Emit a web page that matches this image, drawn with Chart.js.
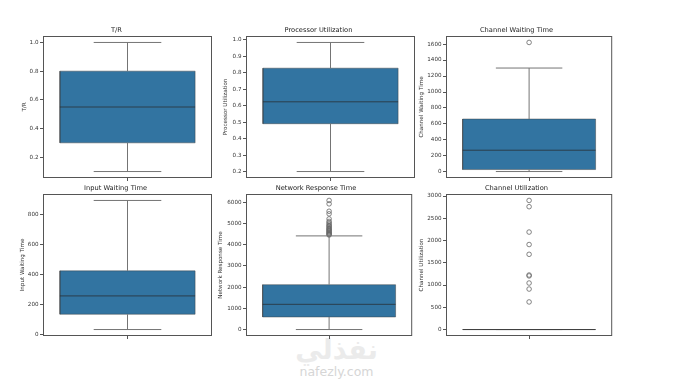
<!DOCTYPE html>
<html><head><meta charset="utf-8">
<script src="https://cdn.jsdelivr.net/npm/chart.js@4"></script>
<style>
html,body{margin:0;padding:0;background:#fff;width:673px;height:379px;overflow:hidden;position:relative}
canvas{position:absolute}
.wm{position:absolute;left:0;width:673px;text-align:center;white-space:nowrap}
</style></head><body>
<div class="wm" style="top:334px;left:0px;font:bold 27px 'DejaVu Sans';color:#ebebeb">نفذلي</div>
<div class="wm" style="top:364px;left:0px;font:12.5px 'DejaVu Sans';color:#d6d6d6">nafezly.com</div>
<script>
// ---- data ----
const titles = ['T/R','Processor Utilization','Channel Waiting Time','Input Waiting Time','Network Response Time','Channel Utilization'];
const whiskerLow  = [0.10, 0.202, 5,    33,  0,    0];
const quartile1   = [0.30, 0.492, 30,   135, 593,  0];
const medians     = [0.55, 0.625, 272,  257, 1190, 0];
const quartile3   = [0.80, 0.829, 662,  424, 2115, 0];
const whiskerHigh = [1.00, 0.985, 1300, 893, 4418, 0];
const outliersTR = [];
const outliersProc = [];
const outliersChanWait = [1620];
const outliersInput = [];
const outliersNet = [6090, 5930, 5580, 5460, 5220, 5100, 5030, 4960, 4900, 4860, 4800, 4760, 4720, 4680, 4640, 4600, 4560, 4520, 4490, 4460];
const outliersChanUtil = [2900, 2760, 2190, 1910, 1690, 1225, 1205, 1045, 910, 620];
const outliers = [outliersTR, outliersProc, outliersChanWait, outliersInput, outliersNet, outliersChanUtil];
const ticksTR = [0.2, 0.4, 0.6, 0.8, 1.0];
const ticksProc = [0.2, 0.3, 0.4, 0.5, 0.6, 0.7, 0.8, 0.9, 1.0];
const ticksChanWait = [0, 200, 400, 600, 800, 1000, 1200, 1400, 1600];
const ticksInput = [0, 200, 400, 600, 800];
const ticksNet = [0, 1000, 2000, 3000, 4000, 5000, 6000];
const ticksChanUtil = [0, 500, 1000, 1500, 2000, 2500, 3000];
const tickValues = [ticksTR, ticksProc, ticksChanWait, ticksInput, ticksNet, ticksChanUtil];
const tickDecimals = [1, 1, 0, 0, 0, 0];

// ---- layout (positions / styles) ----
const colLeft = [43, 246, 446];
const rowTop = [36, 194];
const axesW = 169, axesH = 142;
const yTitleGap = [18, 20, 24, 20, 25, 24];
const titleH = 11, xAxisH = 8;
const boxHalf = 0.4, capHalf = 0.2;
const FONT = "'DejaVu Sans', sans-serif";
const boxFill = '#3274a1';
const lineCol = '#747474';
const medCol = 'rgba(40,40,40,0.7)';
const spine = '#555';

const frame = {
  id: 'frame',
  afterDraw(c) {
    const a = c.chartArea, x = c.ctx;
    x.save();
    x.strokeStyle = spine; x.lineWidth = 1;
    x.strokeRect(a.left + 0.5, a.top + 0.5, a.right - a.left - 1, a.bottom - a.top - 1);
    x.restore();
  }
};

for (let i = 0; i < 6; i++) {
  const L = colLeft[i % 3], T = rowTop[Math.floor(i / 3)];
  const W = Math.round(yTitleGap[i] + 3.5);
  const cv = document.createElement('canvas');
  cv.width = W + axesW + 2;
  cv.height = titleH + axesH + xAxisH;
  cv.style.left = (L - W) + 'px';
  cv.style.top = (T - titleH) + 'px';
  document.body.appendChild(cv);

  const lo = Math.min(whiskerLow[i], ...outliers[i]);
  const hi = Math.max(whiskerHigh[i], ...outliers[i]);
  const pad = 0.05 * (hi - lo);
  const lineDs = (pts, col) => ({
    data: pts, showLine: true, borderColor: col, borderWidth: 1,
    pointRadius: 0, fill: false, order: 0, tension: 0
  });

  new Chart(cv, {
    type: 'scatter',
    data: {
      datasets: [
        lineDs([{x: -boxHalf, y: medians[i]}, {x: boxHalf, y: medians[i]}], medCol),
        lineDs([{x: 0, y: whiskerLow[i]}, {x: 0, y: quartile1[i]}], lineCol),
        lineDs([{x: 0, y: quartile3[i]}, {x: 0, y: whiskerHigh[i]}], lineCol),
        lineDs([{x: -capHalf, y: whiskerLow[i]}, {x: capHalf, y: whiskerLow[i]}], lineCol),
        lineDs([{x: -capHalf, y: whiskerHigh[i]}, {x: capHalf, y: whiskerHigh[i]}], lineCol),
        {
          showLine: false, order: 0,
          data: outliers[i].map(v => ({x: 0, y: v})),
          pointRadius: 2.3, pointBorderWidth: 0.8, pointBorderColor: '#666',
          pointBackgroundColor: 'rgba(0,0,0,0)', borderColor: '#666'
        },
        {
          // the box (Q1..Q3) as a closed, filled shape
          showLine: true, order: 5, tension: 0, pointRadius: 0,
          data: [
            {x: -boxHalf, y: quartile1[i]}, {x: boxHalf, y: quartile1[i]},
            {x: boxHalf, y: quartile3[i]}, {x: -boxHalf, y: quartile3[i]},
            {x: -boxHalf, y: quartile1[i]}
          ],
          fill: 'shape', backgroundColor: boxFill,
          borderColor: 'rgba(60,60,60,0.45)', borderWidth: 1
        }
      ]
    },
    options: {
      responsive: false, animation: false, events: [],
      layout: {padding: {left: 0, right: 2, top: 0, bottom: 0}},
      plugins: {
        legend: {display: false}, tooltip: {enabled: false},
        title: {
          display: true, text: titles[i], color: '#222',
          font: {family: FONT, size: 6.7, lineHeight: '10px', weight: 'normal'},
          padding: {top: 0, bottom: 1}
        }
      },
      scales: {
        x: {
          type: 'linear', min: -0.5, max: 0.5, offset: false,
          afterBuildTicks: s => { s.ticks = [{value: 0}]; },
          grid: {display: true, drawOnChartArea: false, drawTicks: true, tickLength: 3, color: spine, offset: false},
          border: {display: false},
          ticks: {display: false},
          afterFit: s => { s.height = xAxisH; }
        },
        y: {
          type: 'linear', position: 'left', min: lo - pad, max: hi + pad,
          afterBuildTicks: s => { s.ticks = tickValues[i].map(v => ({value: v})); },
          grid: {drawOnChartArea: false, drawTicks: true, tickLength: 3, color: spine},
          border: {display: false},
          ticks: {
            font: {family: FONT, size: 5.6}, color: '#333', padding: 1.5,
            callback: v => Number(v).toFixed(tickDecimals[i])
          },
          title: {
            display: true, text: titles[i], color: '#333',
            font: {family: FONT, size: 5.6, lineHeight: '7px'}, padding: {top: 0, bottom: 0}
          },
          afterFit: s => { s.width = W; }
        }
      }
    },
    plugins: [frame]
  });
}
</script>
</body></html>
